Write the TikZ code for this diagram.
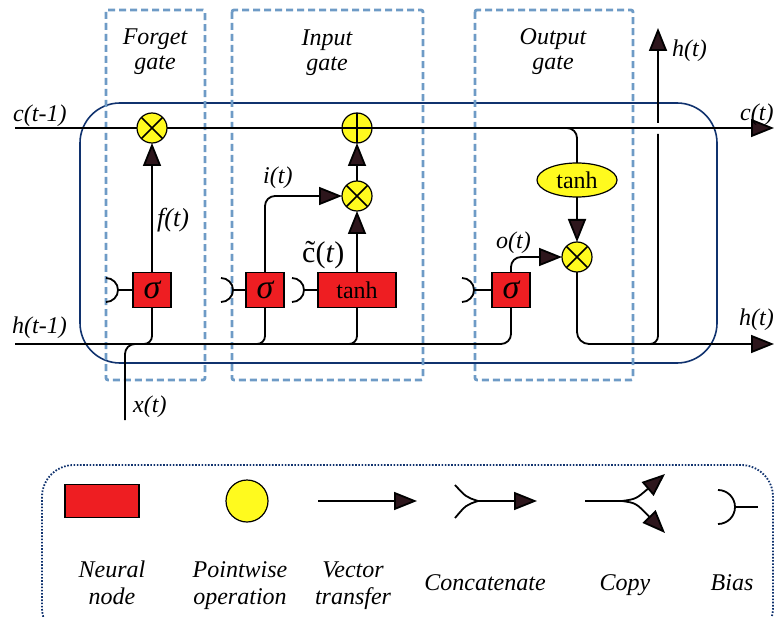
\documentclass[tikz,border=0pt]{standalone}
\usepackage{fontspec}
\setmainfont{Liberation Serif}
\usetikzlibrary{arrows.meta,shapes.geometric}
\definecolor{nred}{RGB}{238,30,34}
\definecolor{pyel}{RGB}{255,250,30}
\definecolor{gblue}{RGB}{110,155,198}
\definecolor{navy}{RGB}{16,50,110}
\definecolor{ahead}{RGB}{45,22,28}
\begin{document}
\begin{tikzpicture}[x=1pt,y=-1pt,
  line/.style={line width=1.8pt, draw=black},
  arr/.style={line, -{Triangle[length=23pt,width=18pt,fill=ahead]}},
  gatebox/.style={draw=gblue, line width=2.8pt, dash pattern=on 7pt off 4pt, rounded corners=2pt},
  cellbox/.style={draw=navy, line width=1.6pt, rounded corners=40pt},
  legbox/.style={draw=navy, line width=1.8pt, dash pattern=on 1.6pt off 1.6pt, rounded corners=32pt},
  neur/.style={draw=black, line width=1.2pt, fill=nred, minimum height=35pt, inner sep=0pt, outer sep=0pt},
  sig/.style={neur, minimum width=38pt, font=\fontsize{34}{34}\selectfont\itshape},
  pw/.style={circle, draw=black, line width=1.2pt, fill=pyel, minimum size=30pt, inner sep=0pt, outer sep=0pt},
  otimes/.style={pw, path picture={\draw[line width=1.5pt] (path picture bounding box.south west) -- (path picture bounding box.north east) (path picture bounding box.north west) -- (path picture bounding box.south east);}},
  oplus/.style={pw, path picture={\draw[line width=1.5pt] (path picture bounding box.north) -- (path picture bounding box.south) (path picture bounding box.west) -- (path picture bounding box.east);}},
  lab/.style={font=\fontsize{24}{26}\selectfont\itshape, inner sep=0pt, anchor=base west},
  title/.style={font=\fontsize{24}{26}\selectfont\itshape, inner sep=0pt, anchor=base},
]
\useasboundingbox (0,0) rectangle (775,617);

% cell and gate boxes
\draw[cellbox] (80,103) rectangle (717,363);
\draw[gatebox] (106,10) rectangle (205,380);
\draw[gatebox] (232,10) rectangle (423,380);
\draw[gatebox] (475,10) rectangle (633,380);

% gate titles
\node[title] (tf1) at (155,45) {Forget};
\node[title] (tf2) at (155,70) {gate};
\node[title] (ti1) at (327,46) {Input};
\node[title] (ti2) at (327,71) {gate};
\node[title] (to1) at (553,45) {Output};
\node[title] (to2) at (553,70) {gate};

% nodes
\node[otimes] (fx) at (152,128) {};
\node[oplus] (ap) at (357,128) {};
\node[otimes] (ix) at (357,196) {};
\node[sig] (fs) at (152,290) {σ};
\node[sig] (is) at (265,290) {σ};
\node[neur, minimum width=78pt, font=\fontsize{24}{24}\selectfont] (tb) at (357,290) {tanh};
\node[sig] (os) at (511,290) {σ};
\node[ellipse, draw=black, line width=1.2pt, fill=pyel, minimum width=80pt, minimum height=34pt, inner sep=0pt, outer sep=0pt, font=\fontsize{24}{24}\selectfont] (oth) at (577,180) {tanh};
\node[otimes] (ox) at (577,257) {};

% coordinates
\coordinate (cin) at (15,128);
\coordinate (cout) at (774,128);
\coordinate (hin) at (15,344);
\coordinate (hout) at (774,344);
\coordinate (xin) at (125,420);
\coordinate (xj) at (145,344);
\coordinate (fj) at (138,344);
\coordinate (ij) at (250,344);
\coordinate (tj) at (342,344);
\coordinate (cbr) at (562,128);
\coordinate (hsplit) at (645,344);
\coordinate (gapb) at (658,134);
\coordinate (gapt) at (658,123);
\coordinate (htop) at (658,28);
\coordinate (b1) at (118,290);
\coordinate (b2) at (233,290);
\coordinate (b3) at (304,290);
\coordinate (b4) at (474,290);

% cell state line
\draw[line] (cin) -- (fx);
\draw[line] (fx) -- (ap);
\draw[arr] (ap) -- (cout);

% hidden input line
\draw[line, rounded corners=10pt] (hin) -| (os);
\draw[line, rounded corners=10pt] (xin) |- (xj);
\draw[line, rounded corners=8pt] (fs) |- (fj);
\draw[line, rounded corners=8pt] (is) |- (ij);
\draw[line, rounded corners=8pt] (tb) |- (tj);

% gate flows
\draw[arr] (fs) -- (fx);
\draw[arr, rounded corners=10pt] (is) |- (ix);
\draw[arr] (tb) -- (ix);
\draw[arr] (ix) -- (ap);
\draw[arr, rounded corners=10pt] (os) |- (ox);
\draw[line, rounded corners=10pt] (cbr) -| (oth);
\draw[arr] (oth) -- (ox);
\draw[arr, rounded corners=12pt] (ox) |- (hout);
\draw[line, rounded corners=8pt] (hsplit) -| (gapb);
\draw[arr] (gapt) -- (htop);

% biases
\foreach \b/\t in {b1/fs,b2/is,b3/tb,b4/os}{
  \draw[line] (\b) -- (\t);
  \draw[line] (\b) ++(-12,-12) arc[start angle=-90,end angle=90,radius=12];
}

% labels
\node[lab] (lc0) at (13,122) {c(t-1)};
\node[lab] (lh0) at (12,333) {h(t-1)};
\node[lab, font=\fontsize{26}{26}\selectfont\itshape] (lf) at (157,227) {f(t)};
\node[lab] (li) at (263,184) {i(t)};
\node[lab, font=\fontsize{30}{30}\selectfont] (lct) at (302,262) {\~c(\textit{t})};
\node[lab] (lo) at (496,248) {o(t)};
\node[lab] (lx) at (133,412) {x(t)};
\node[lab] (lht) at (672,57) {h(t)};
\node[lab] (lc1) at (740,121) {c(t)};
\node[lab] (lh1) at (739,325) {h(t)};

% legend
\draw[legbox] (42,465) rectangle (773,640);
\node[neur, minimum width=74pt, minimum height=33pt] (nn) at (102,501) {};
\node[pw, minimum size=42pt] (po) at (247,501) {};
\coordinate (vt1) at (318,501);
\coordinate (vt2) at (417,501);
\draw[arr] (vt1) -- (vt2);
\coordinate (ca) at (455,485);
\coordinate (cb) at (455,518);
\coordinate (cm) at (478,501);
\coordinate (ce) at (537,501);
\draw[line] (ca) .. controls (466,497) .. (cm);
\draw[line] (cb) .. controls (466,505) .. (cm);
\draw[arr] (cm) -- (ce);
\coordinate (cp1) at (585,501);
\coordinate (cp2) at (622,501);
\coordinate (cpu) at (665,474);
\coordinate (cpd) at (665,533);
\draw[line] (cp1) -- (cp2);
\draw[arr] (cp2) .. controls (636,499) .. (cpu);
\draw[arr] (cp2) .. controls (636,503) .. (cpd);
\coordinate (bs) at (735,507);
\coordinate (be) at (758,507);
\draw[line] (bs) -- (be);
\draw[line] (bs) ++(-17,-17) arc[start angle=-90,end angle=90,radius=17];

\node[title] (l1a) at (112,577) {Neural};
\node[title] (l1b) at (112,604) {node};
\node[title] (l2a) at (240,577) {Pointwise};
\node[title] (l2b) at (240,604) {operation};
\node[title] (l3a) at (353,577) {Vector};
\node[title] (l3b) at (353,604) {transfer};
\node[title] (l4) at (485,590) {Concatenate};
\node[title] (l5) at (625,590) {Copy};
\node[title] (l6) at (732,590) {Bias};
\end{tikzpicture}
\end{document}
